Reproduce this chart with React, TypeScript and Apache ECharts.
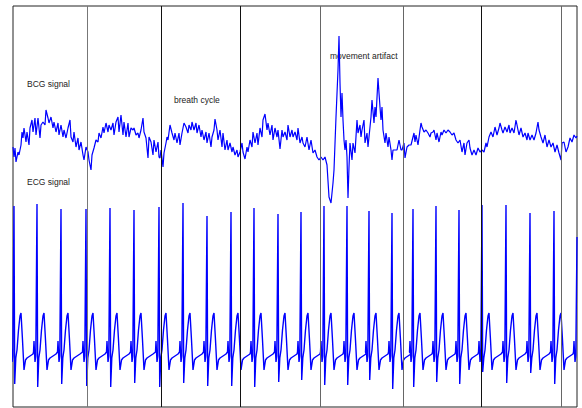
import React, { useEffect, useRef } from "react";
import * as echarts from "echarts";

// BCG signal samples: x position (time, px units) and level (px units, top = small)
const bcgX = [
  13, 14, 15, 16, 18, 19, 21, 22, 23, 24, 26, 27, 29, 30, 32, 33, 35, 36, 38, 40, 41, 43, 45, 46, 48, 49, 51, 53, 54, 56, 58, 59, 61, 63, 64, 66, 68, 70, 71, 73, 74, 76, 78, 79, 81, 83, 84, 86, 88, 89, 91, 92, 94, 96, 98, 99,
  101, 103, 104, 106, 108, 109, 111, 113, 114, 116, 118, 119, 121, 123, 124, 126, 128, 129, 131, 133, 134, 136, 138, 139, 141, 143, 144, 146, 148, 149, 151, 153, 154, 156, 158, 159, 160, 161, 163, 164, 166, 167, 168, 170, 172, 174, 175, 177, 179, 180, 182, 184, 186, 188, 189, 191, 192, 194, 196, 197, 199,
  201, 202, 204, 206, 207, 209, 211, 212, 214, 215, 217, 218, 220, 222, 223, 225, 227, 228, 230, 232, 233, 235, 237, 238, 240, 242, 243, 245, 247, 248, 250, 252, 253, 255, 257, 258, 260, 262, 263, 265, 267, 268, 270, 272, 273, 275, 277, 278, 280, 282, 283, 285, 287, 288, 290, 292, 293, 295, 297, 298,
  300, 302, 303, 305, 307, 309, 311, 313, 315, 317, 319, 321, 323, 325, 327, 329, 331, 333, 334, 336, 338, 339, 340, 341, 342, 343, 344, 345, 346, 347, 348, 349, 350, 352, 353, 355, 357, 358, 360, 361, 362, 364, 365, 367, 368, 369, 371, 372, 374, 375, 376, 378, 379, 380, 381, 382, 383, 385, 386, 388, 389, 391, 392, 393, 395, 397, 399,
  401, 402, 404, 405, 407, 409, 411, 413, 414, 415, 416, 418, 420, 421, 422, 424, 426, 428, 430, 431, 433, 434, 436, 437, 439, 441, 442, 444, 446, 448, 450, 452, 454, 456, 458, 460, 462, 464, 465, 467, 469, 470, 472, 474, 476, 478, 480, 482, 484, 486, 487, 489, 491, 493, 495, 497, 499,
  500, 502, 503, 505, 507, 509, 510, 512, 514, 516, 518, 519, 521, 523, 525, 527, 528, 530, 532, 534, 536, 538, 539, 541, 543, 545, 547, 549, 551, 553, 555, 557, 559, 561, 562, 564, 566, 568, 570, 572, 574, 576, 577,
];
const bcgY = [
  147, 157, 148, 162, 152, 155, 145, 132, 138, 128, 142, 132, 145, 128, 120, 132, 118, 135, 118, 138, 125, 122, 125, 110, 118, 123, 117, 128, 122, 132, 123, 135, 125, 137, 130, 138, 128, 120, 137, 142, 132, 147, 138, 150, 142, 155, 160, 147, 152, 160, 170, 155, 148, 140, 142, 133,
  138, 127, 133, 123, 132, 125, 130, 123, 135, 122, 117, 132, 115, 135, 122, 137, 123, 137, 128, 130, 128, 135, 133, 138, 130, 118, 132, 138, 158, 137, 142, 155, 140, 152, 142, 157, 158, 150, 167, 153, 143, 137, 140, 125, 133, 140, 133, 143, 133, 145, 133, 123, 127, 133, 125, 130, 122, 130, 123, 133, 125,
  137, 130, 140, 132, 143, 133, 147, 137, 130, 119, 130, 140, 130, 147, 133, 150, 140, 150, 143, 152, 147, 155, 150, 157, 152, 143, 152, 159, 147, 152, 140, 147, 132, 143, 133, 145, 128, 137, 120, 114, 130, 123, 135, 125, 140, 128, 137, 130, 149, 130, 137, 132, 140, 125, 137, 130, 137, 132, 140, 128,
  143, 137, 143, 147, 137, 150, 140, 153, 150, 157, 160, 157, 160, 157, 165, 197, 203, 183, 170, 117, 70, 36, 83, 117, 93, 120, 140, 150, 140, 157, 198, 167, 143, 160, 143, 153, 120, 133, 125, 137, 130, 120, 143, 133, 147, 137, 117, 100, 123, 107, 117, 78, 93, 107, 120, 107, 130, 143, 133, 147, 137, 150, 160, 150, 150, 150, 140,
  150, 150, 143, 158, 147, 145, 145, 137, 133, 142, 135, 145, 130, 123, 127, 132, 130, 133, 137, 133, 132, 130, 140, 133, 142, 132, 135, 130, 133, 130, 132, 135, 133, 140, 143, 140, 152, 143, 155, 143, 140, 148, 155, 150, 155, 148, 152, 150, 152, 143, 147, 137, 132, 137, 127, 135, 128,
  123, 130, 133, 127, 132, 125, 133, 128, 133, 120, 130, 135, 128, 137, 133, 140, 133, 140, 135, 140, 133, 122, 130, 137, 143, 135, 147, 140, 147, 143, 152, 145, 153, 160, 143, 142, 152, 147, 138, 142, 135, 138, 136,
];

// ECG beats: R-peak positions, R-peak tops and S-wave bottoms (px units)
const rPos = [14, 37, 61, 86, 110, 134, 159, 183, 207, 231, 254, 278, 301, 324, 347, 369, 392, 413, 436, 459, 482, 506, 530, 554, 577];
const rTop = [206, 204, 209, 209, 208, 210, 207, 203, 216, 212, 208, 214, 212, 206, 206, 211, 213, 209, 206, 210, 205, 205, 213, 211, 237];
const sBottom = [384, 387, 384, 386, 387, 383, 387, 383, 386, 386, 387, 382, 380, 385, 385, 380, 389, 387, 382, 384, 372, 383, 373, 384, 384];
// one heartbeat's shape around its R peak ("R"/"S" = per-beat values)
const beatDx = [-3.5, -3, -2, -1.2, 0, 0.7, 1.8, 3, 4.5, 6, 7, 8.5, 10, 11.5, 13, 16, 19];
const beatLevel: (number | string)[] = [352, 341, 362, 356, "R", "S", 358, 350, 330, 316, 313, 340, 370, 360, 358, 356, 354];

const dividers = [87, 161, 240, 320, 403, 481, 561];
const dividerShade = ["#777", "#111", "#111", "#666", "#666", "#111", "#666"];

const labels = [
  { text: "BCG signal", x: 27, y: 84 },
  { text: "breath cycle", x: 174, y: 100 },
  { text: "movement artifact", x: 330, y: 56 },
  { text: "ECG signal", x: 27, y: 182 },
];

export default function App() {
  const ref = useRef<HTMLDivElement>(null);
  useEffect(() => {
    if (!ref.current) return;
    const chart = echarts.init(ref.current, undefined, { renderer: "svg" });
    const bcg = bcgX.map((x, i) => [x, bcgY[i]]);
    const ecg: number[][] = [];
    rPos.forEach((r, b) => {
      beatDx.forEach((dx, k) => {
        const x = r + dx;
        if (x > 577.01) return;
        const lv = beatLevel[k];
        const y = lv === "R" ? rTop[b] : lv === "S" ? sBottom[b] : (lv as number);
        ecg.push([x, y]);
      });
    });
    chart.setOption({
      animation: false,
      backgroundColor: "#fff",
      grid: {
        left: 13,
        top: 6,
        width: 564,
        height: 401,
        show: true,
        borderColor: "#222",
        borderWidth: 1,
        backgroundColor: "transparent",
      },
      xAxis: { type: "value", min: 13, max: 577, show: false },
      yAxis: { type: "value", min: 6, max: 407, inverse: true, show: false },
      graphic: labels.map((l) => ({
        type: "text",
        x: l.x,
        y: l.y,
        silent: true,
        style: {
          text: l.text,
          fill: "#222",
          font: '8.5px "Liberation Sans", Arial, sans-serif',
          verticalAlign: "middle",
        },
      })),
      series: [
        {
          type: "line",
          data: bcg,
          showSymbol: false,
          clip: true,
          lineStyle: { color: "#0000ff", width: 1.2 },
          markLine: {
            silent: true,
            symbol: "none",
            label: { show: false },
            data: dividers.map((d, i) => ({
              xAxis: d,
              lineStyle: { color: dividerShade[i], width: 1, type: "solid" },
            })),
          },
        },
        {
          type: "line",
          data: ecg,
          showSymbol: false,
          clip: true,
          lineStyle: { color: "#0000ff", width: 1.4 },
        },
      ],
    });
    return () => chart.dispose();
  }, []);
  return (
    <div
      ref={ref}
      style={{ position: "absolute", left: 0, top: 0, width: 582, height: 408 }}
    />
  );
}
